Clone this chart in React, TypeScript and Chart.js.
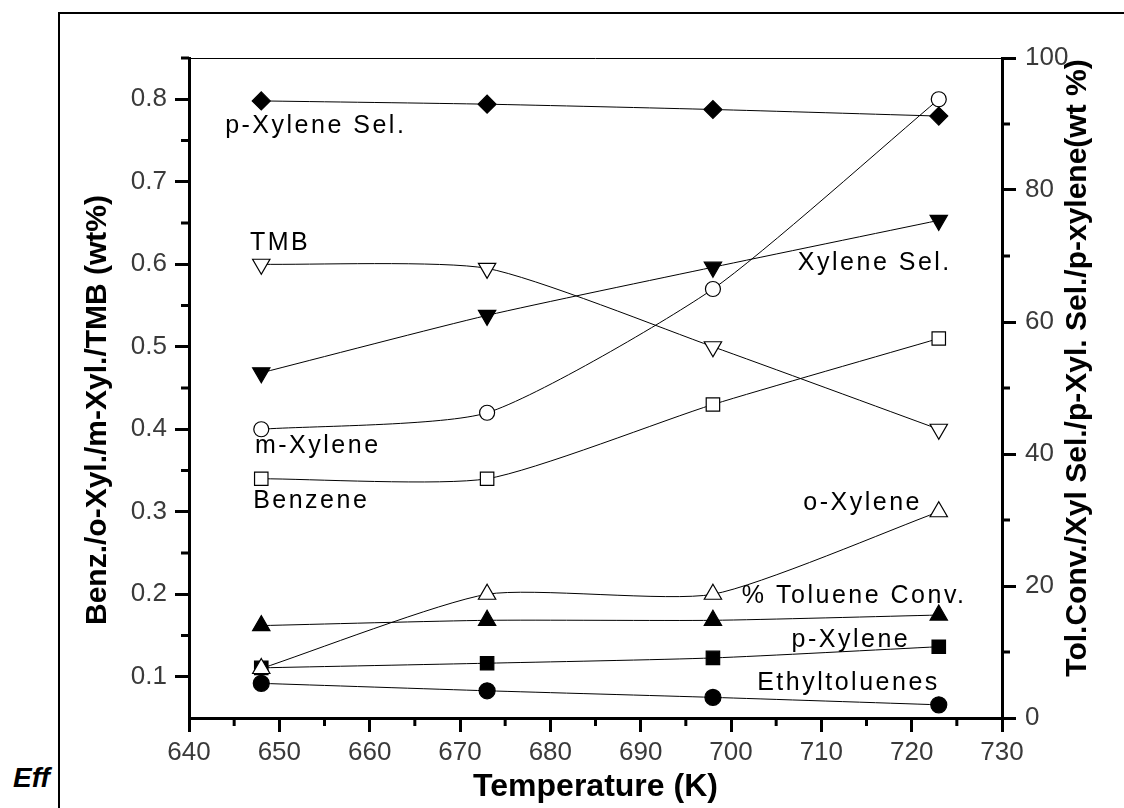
import React, { useEffect, useRef } from 'react';
import { Chart, registerables } from 'chart.js';

Chart.register(...registerables);

// ---- data ----
const temperatures = [648, 673, 698, 723];

// right axis (Tol.Conv./Xyl Sel./p-Xyl. Sel./p-xylene, wt %)
const pXyleneSel = [93.5, 93.0, 92.2, 91.2];
const xyleneSel = [52.3, 61.0, 68.3, 75.4];
const tolueneConv = [14.0, 14.8, 14.8, 15.6];
const pXylene = [7.6, 8.3, 9.1, 10.8];

// left axis (Benz./o-Xyl./m-Xyl./TMB, wt%)
const tmb = [0.6, 0.595, 0.5, 0.4];
const mXylene = [0.4, 0.42, 0.57, 0.8];
const benzene = [0.34, 0.34, 0.43, 0.51];
const oXylene = [0.11, 0.2, 0.2, 0.3];
const ethyltoluenes = [0.092, 0.083, 0.075, 0.066];

// ---- ticks ----
const xMajorTicks = [640, 650, 660, 670, 680, 690, 700, 710, 720, 730];
const xMinorTicks = [645, 655, 665, 675, 685, 695, 705, 715, 725];
const leftMajorTicks = [0.1, 0.2, 0.3, 0.4, 0.5, 0.6, 0.7, 0.8];
const leftMinorTicks = [0.15, 0.25, 0.35, 0.45, 0.55, 0.65, 0.75, 0.85];
const rightMajorTicks = [0, 20, 40, 60, 80, 100];
const rightMinorTicks = [10, 30, 50, 70, 90];

// ---- in-plot labels (data coordinates, left axis) ----
const labelTexts = ['p-Xylene Sel.', 'TMB', 'Xylene Sel.', 'm-Xylene', 'Benzene', 'o-Xylene', '% Toluene Conv.', 'p-Xylene', 'Ethyltoluenes'];
const labelX = [644.0, 646.75, 707.4, 647.3, 647.1, 708.0, 701.2, 706.7, 702.9];
const labelY = [0.7586, 0.617, 0.593, 0.371, 0.3046, 0.302, 0.1896, 0.1363, 0.0843];

const xTitle = 'Temperature (K)';
const leftTitle = 'Benz./o-Xyl./m-Xyl./TMB (wt%)';
const rightTitle = 'Tol.Conv./Xyl Sel./p-Xyl. Sel./p-xylene(wt %)';

const FONT = '"Liberation Sans", Arial, sans-serif';

function series(label: string, vals: number[], axis: string, style: string, filled: boolean, radius: number, rotation = 0) {
  return {
    label,
    data: temperatures.map((t, i) => ({ x: t, y: vals[i] })),
    yAxisID: axis,
    borderColor: '#000',
    borderWidth: 1,
    pointStyle: style,
    pointRadius: radius,
    pointRotation: rotation,
    pointBackgroundColor: filled ? '#000' : '#fff',
    pointBorderColor: '#000',
    pointBorderWidth: 1.2,
    tension: 0.2,
    fill: false,
  };
}

const decorPlugin = {
  id: 'decor',
  afterDraw(chart: any) {
    const { ctx, chartArea, scales } = chart;
    const sx = scales.x;
    const sl = scales.yLeft;
    const sr = scales.yRight;
    ctx.save();
    ctx.strokeStyle = '#000';
    // thin top frame line of plot
    ctx.lineWidth = 1;
    ctx.beginPath();
    ctx.moveTo(chartArea.left, chartArea.top + 0.5);
    ctx.lineTo(chartArea.right, chartArea.top + 0.5);
    ctx.stroke();
    // minor ticks
    ctx.lineWidth = 3;
    ctx.beginPath();
    xMinorTicks.forEach((v) => {
      const p = sx.getPixelForValue(v);
      ctx.moveTo(p, chartArea.bottom);
      ctx.lineTo(p, chartArea.bottom + 8);
    });
    leftMinorTicks.forEach((v) => {
      const p = sl.getPixelForValue(v);
      ctx.moveTo(chartArea.left - 8, p);
      ctx.lineTo(chartArea.left, p);
    });
    rightMinorTicks.forEach((v) => {
      const p = sr.getPixelForValue(v);
      ctx.moveTo(chartArea.right, p);
      ctx.lineTo(chartArea.right + 8, p);
    });
    ctx.stroke();

    // in-plot labels
    ctx.fillStyle = '#000';
    ctx.font = `25px ${FONT}`;
    (ctx as any).letterSpacing = '2.5px';
    ctx.textAlign = 'left';
    ctx.textBaseline = 'alphabetic';
    labelTexts.forEach((t, i) => {
      ctx.fillText(t, sx.getPixelForValue(labelX[i]), sl.getPixelForValue(labelY[i]));
    });

    // vertical axis titles (both read bottom-to-top)
    (ctx as any).letterSpacing = '0px';
    ctx.font = `bold 30px ${FONT}`;
    ctx.textAlign = 'center';
    ctx.textBaseline = 'middle';
    ctx.save();
    ctx.translate(98, 410);
    ctx.rotate(-Math.PI / 2);
    ctx.fillText(leftTitle, 0, 0);
    ctx.restore();
    ctx.save();
    ctx.translate(1078, 368);
    ctx.rotate(-Math.PI / 2);
    ctx.fillText(rightTitle, 0, 0);
    ctx.restore();
    ctx.restore();
  },
};

const gridOpts = {
  drawOnChartArea: false,
  drawTicks: true,
  tickLength: 14,
  tickWidth: 3,
  tickColor: '#000',
  color: '#000',
  lineWidth: 3,
};
const borderOpts = { display: true, width: 3, color: '#000' };
const tickFont = { family: FONT, size: 26 };

export default function App() {
  const ref = useRef<HTMLCanvasElement>(null);
  useEffect(() => {
    const chart = new Chart(ref.current as HTMLCanvasElement, {
      type: 'line',
      data: {
        datasets: [
          series('p-Xylene Sel.', pXyleneSel, 'yRight', 'rectRot', true, 9),
          series('Xylene Sel.', xyleneSel, 'yRight', 'triangle', true, 10, 180),
          series('TMB', tmb, 'yLeft', 'triangle', false, 10, 180),
          series('m-Xylene', mXylene, 'yLeft', 'circle', false, 7.5),
          series('Benzene', benzene, 'yLeft', 'rect', false, 9.5),
          series('o-Xylene', oXylene, 'yLeft', 'triangle', false, 10),
          series('% Toluene Conv.', tolueneConv, 'yRight', 'triangle', true, 10),
          series('p-Xylene', pXylene, 'yRight', 'rect', true, 9.5),
          series('Ethyltoluenes', ethyltoluenes, 'yLeft', 'circle', true, 8),
        ] as any,
      },
      options: {
        animation: false,
        responsive: false,
        maintainAspectRatio: false,
        layout: { padding: { top: 58, left: 0, right: 0, bottom: 0 } },
        plugins: { legend: { display: false }, tooltip: { enabled: false } },
        scales: {
          x: {
            type: 'linear',
            position: 'bottom',
            min: 640,
            max: 730,
            afterBuildTicks: (s: any) => { s.ticks = xMajorTicks.map((v) => ({ value: v })); },
            afterFit: (s: any) => { s.height = 90; },
            grid: gridOpts,
            border: borderOpts,
            ticks: { font: tickFont, color: '#3a3a3a', padding: 5, maxRotation: 0, autoSkip: false },
            title: { display: true, text: xTitle, color: '#000', font: { family: FONT, size: 32, weight: 'bold' }, padding: { top: 0, bottom: 2 } },
          },
          yLeft: {
            type: 'linear',
            position: 'left',
            min: 0.05,
            max: 0.85,
            afterBuildTicks: (s: any) => { s.ticks = leftMajorTicks.map((v) => ({ value: v })); },
            afterFit: (s: any) => { s.width = 189; },
            grid: gridOpts,
            border: borderOpts,
            ticks: { font: tickFont, color: '#3a3a3a', padding: 8, callback: (v: any) => Number(v).toFixed(1) },
          },
          yRight: {
            type: 'linear',
            position: 'right',
            min: 0,
            max: 100,
            afterBuildTicks: (s: any) => { s.ticks = rightMajorTicks.map((v) => ({ value: v })); },
            afterFit: (s: any) => { s.width = 122; },
            grid: gridOpts,
            border: borderOpts,
            ticks: { font: tickFont, color: '#3a3a3a', padding: 9 },
          },
        },
      } as any,
      plugins: [decorPlugin],
    });
    return () => chart.destroy();
  }, []);

  return (
    <div style={{ position: 'absolute', left: 0, top: 0, width: 1124, height: 808, background: '#fff', overflow: 'hidden' }}>
      <div style={{ position: 'absolute', left: 13, top: 762, font: `italic bold 28px ${FONT}`, color: '#000', lineHeight: '32px' }}>Eff</div>
      <div style={{ position: 'absolute', left: 58, top: 12, right: 0, bottom: 0, borderLeft: '2px solid #000', borderTop: '2px solid #000', background: '#fff' }} />
      <canvas ref={ref} width={1124} height={808} style={{ position: 'absolute', left: 0, top: 0, width: 1124, height: 808 }} />
    </div>
  );
}
